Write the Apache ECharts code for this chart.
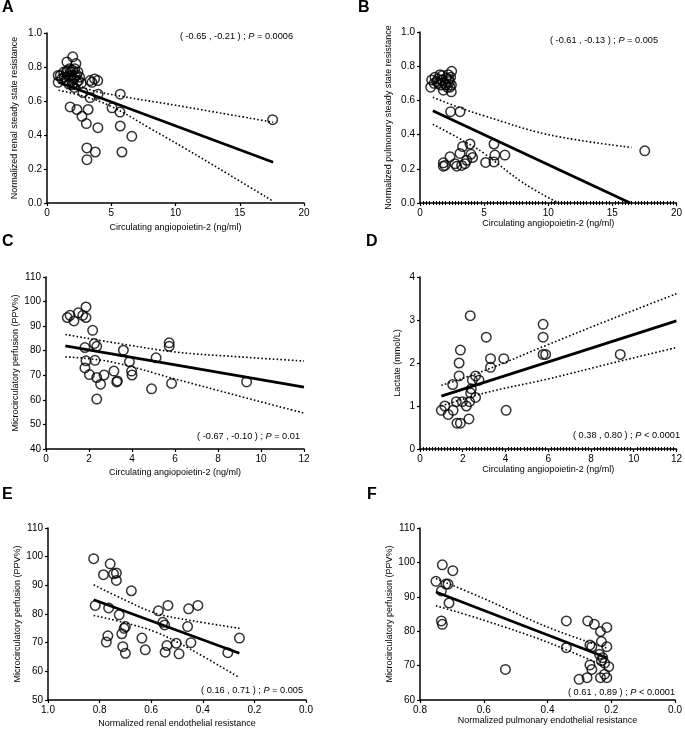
<!DOCTYPE html>
<html>
<head>
<meta charset="utf-8">
<script src="https://cdn.jsdelivr.net/npm/echarts@6/dist/echarts.min.js"></script>
<style>
  html, body { margin: 0; padding: 0; background: #fff; }
  #chart { width: 685px; height: 730px; }
</style>
</head>
<body>
<div id="chart"></div>
<script>
// ---- 数据：点 ----
// A: 肾稳态阻力 vs 血管生成素-2
const aPoints = [
  [0.87, 0.71], [0.87, 0.75], [1.04, 0.75], [1.35, 0.74], [1.50, 0.77], [1.55, 0.83],
  [1.76, 0.79], [1.87, 0.75], [1.94, 0.72], [2.02, 0.78], [2.0, 0.86], [2.20, 0.745],
  [2.25, 0.82], [2.33, 0.71], [2.41, 0.77], [2.54, 0.74], [2.12, 0.68], [2.67, 0.705],
  [1.3, 0.77], [1.45, 0.72], [1.65, 0.745], [1.7, 0.70], [1.85, 0.77], [2.1, 0.73],
  [2.3, 0.755], [1.6, 0.78], [1.95, 0.695], [2.45, 0.72], [1.15, 0.73], [2.15, 0.79],
  [2.8, 0.65], [3.35, 0.72], [3.7, 0.73], [3.95, 0.72], [3.5, 0.71], [3.35, 0.62],
  [3.97, 0.64], [1.8, 0.565], [2.33, 0.55], [3.2, 0.55], [2.72, 0.51], [3.06, 0.467],
  [3.96, 0.443], [5.06, 0.56], [5.7, 0.64], [5.68, 0.535], [5.70, 0.453], [6.60, 0.392],
  [5.83, 0.30], [3.76, 0.30], [3.10, 0.324], [3.11, 0.255], [17.56, 0.49]
];
const aFit = [[0.9, 0.71], [17.6, 0.24]];
const aUpper = [[0.9, 0.76], [3, 0.675], [5.8, 0.628], [10, 0.575], [17.6, 0.475]];
const aLower = [[0.9, 0.663], [3, 0.625], [5, 0.568], [8, 0.44], [12, 0.265], [17.6, 0.01]];

// B: 肺稳态阻力 vs 血管生成素-2
const bPoints = [
  [0.83, 0.677], [0.91, 0.72], [1.17, 0.736], [1.30, 0.71], [1.56, 0.75], [1.69, 0.72],
  [1.82, 0.66], [1.95, 0.70], [2.03, 0.73], [2.13, 0.677], [2.29, 0.71], [2.39, 0.736],
  [2.47, 0.77], [2.44, 0.65], [2.34, 0.677], [1.45, 0.70], [2.2, 0.75], [1.6, 0.69],
  [1.1, 0.70], [1.75, 0.745], [2.0, 0.69], [2.25, 0.725], [1.4, 0.725], [2.45, 0.69],
  [2.39, 0.534], [3.12, 0.534],
  [1.82, 0.235], [1.95, 0.22], [1.82, 0.215], [2.34, 0.27], [2.73, 0.23], [2.86, 0.215],
  [3.12, 0.29], [3.32, 0.33], [3.25, 0.22], [3.51, 0.23], [3.64, 0.25], [3.90, 0.345],
  [3.97, 0.285], [4.10, 0.266], [5.12, 0.237], [5.77, 0.345], [5.84, 0.28], [5.77, 0.24],
  [6.62, 0.28], [17.53, 0.305]
];
const bFit = [[1.0, 0.54], [16.4, 0.0]];
const bUpper = [[1, 0.618], [3, 0.56], [5, 0.51], [10, 0.4], [16.5, 0.325]];
const bLower = [[1, 0.46], [3, 0.38], [5, 0.29], [8, 0.12], [10.8, 0.0]];

// C: 微循环灌注 vs 血管生成素-2
const cPoints = [
  [0.99, 93.5], [1.12, 94.4], [1.30, 92.1], [1.50, 95.4], [1.71, 94.4], [1.86, 93.5],
  [1.86, 97.8], [2.17, 88.3], [1.81, 81.3], [2.25, 82.9], [2.36, 81.8], [1.86, 75.9],
  [2.28, 76.1], [1.81, 73.0], [2.02, 70.3], [2.36, 69.1], [2.70, 70.1], [2.54, 66.4],
  [2.36, 60.3], [3.16, 71.7], [3.29, 67.3], [3.32, 67.7], [3.60, 80.2], [3.88, 75.5],
  [3.98, 71.7], [4.00, 70.1], [4.91, 64.5], [5.12, 77.1], [5.73, 83.2], [5.73, 81.8],
  [5.84, 66.7], [9.33, 67.3]
];
const cFit = [[0.9, 82], [12, 65.2]];
const cUpper = [[0.9, 86.6], [3, 83.5], [6, 79.5], [9, 77.5], [12, 75.8]];
const cLower = [[0.9, 77.5], [3, 75.5], [6, 68.5], [9, 61.5], [12, 54.6]];

// D: 乳酸 vs 血管生成素-2
const dPoints = [
  [1.0, 0.9], [1.16, 1.0], [1.32, 0.8], [1.55, 0.9], [1.53, 1.5], [1.7, 1.1],
  [1.73, 0.6], [1.89, 0.6], [1.83, 1.7], [1.83, 2.0], [1.89, 2.3], [1.98, 1.1],
  [2.17, 1.0], [2.29, 0.7], [2.35, 3.1], [2.32, 1.1], [2.37, 1.3], [2.4, 1.4],
  [2.45, 1.6], [2.6, 1.7], [2.6, 1.2], [2.76, 1.6], [3.1, 2.6], [3.3, 2.1],
  [3.3, 1.9], [3.92, 2.1], [4.03, 0.9], [5.76, 2.9], [5.76, 2.6], [5.76, 2.2],
  [5.88, 2.2], [9.37, 2.2]
];
const dFit = [[1, 1.23], [12, 2.98]];
const dUpper = [[1, 1.48], [3, 1.82], [6, 2.43], [9, 3.03], [12, 3.61]];
const dLower = [[1, 1.0], [3, 1.3], [6, 1.63], [9, 2.0], [12, 2.36]];

// E: 微循环灌注 vs 肾内皮阻力
const ePoints = [
  [0.823, 99.3], [0.759, 97.5], [0.785, 93.7], [0.746, 94.0], [0.735, 94.3], [0.735, 91.7],
  [0.677, 88.1], [0.817, 83.0], [0.765, 82.1], [0.724, 79.7], [0.768, 72.4], [0.774, 70.2],
  [0.70, 75.6], [0.705, 75.0], [0.714, 73.1], [0.71, 68.6], [0.70, 66.3], [0.636, 71.6],
  [0.623, 67.5], [0.572, 81.1], [0.555, 77.1], [0.548, 76.2], [0.535, 83.0], [0.539, 69.0],
  [0.546, 66.7], [0.503, 69.8], [0.492, 66.1], [0.455, 81.8], [0.419, 83.0], [0.459, 75.6],
  [0.446, 70.0], [0.303, 66.5], [0.258, 71.6]
];
const eFit = [[0.823, 84.95], [0.258, 66.3]];
const eUpper = [[0.823, 90.2], [0.7, 84.8], [0.58, 80.2], [0.45, 77.8], [0.258, 75.0]];
const eLower = [[0.823, 79.5], [0.7, 76.9], [0.58, 73.6], [0.45, 67.8], [0.258, 57.8]];

// F: 微循环灌注 vs 肺内皮阻力
const fPoints = [
  [0.750, 94.5], [0.730, 99.3], [0.697, 97.6], [0.733, 91.7], [0.719, 93.7], [0.712, 93.7],
  [0.709, 88.2], [0.733, 83.0], [0.730, 82.0], [0.532, 68.9], [0.341, 83.0], [0.341, 75.2],
  [0.274, 83.0], [0.253, 82.0], [0.214, 81.1], [0.234, 79.9], [0.231, 77.0], [0.267, 76.0],
  [0.261, 75.5], [0.214, 75.5], [0.237, 73.3], [0.227, 72.3], [0.231, 71.4], [0.221, 70.7],
  [0.208, 69.7], [0.267, 70.2], [0.261, 68.9], [0.276, 66.5], [0.301, 66.0], [0.234, 66.5],
  [0.221, 67.5], [0.214, 66.5]
];
const fFit = [[0.75, 91.4], [0.214, 72.3]];
const fUpper = [[0.75, 95.3], [0.6, 89.5], [0.4, 81.2], [0.214, 75.1]];
const fLower = [[0.75, 87.4], [0.6, 83.2], [0.4, 76.8], [0.214, 69.5]];

// 面板标签与注释文字
const panelLetters = ['A', 'B', 'C', 'D', 'E', 'F'];
const ciTexts = [
  ['( -0.65 , -0.21 ) ; ', ' = 0.0006'],
  ['( -0.61 , -0.13 ) ; ', ' = 0.005'],
  ['( -0.67 , -0.10 ) ; ', ' = 0.01'],
  ['( 0.38 , 0.80 ) ; ', ' < 0.0001'],
  ['( 0.16 , 0.71 ) ; ', ' = 0.005'],
  ['( 0.61 , 0.89 ) ; ', ' < 0.0001']
];
const xNames = [
  'Circulating angiopoietin-2 (ng/ml)', 'Circulating angiopoietin-2 (ng/ml)',
  'Circulating angiopoietin-2 (ng/ml)', 'Circulating angiopoietin-2 (ng/ml)',
  'Normalized renal endothelial resistance', 'Normalized pulmonary endothelial resistance'
];
const yNames = [
  'Normalized renal steady state resistance', 'Normalized pulmonary steady state resistance',
  'Microcirculatory perfusion (PPV%)', 'Lactate (mmol/L)',
  'Microcirculatory perfusion (PPV%)', 'Microcirculatory perfusion (PPV%)'
];

const FONT = '"Liberation Sans", Arial, Helvetica, sans-serif';

// 布局（像素）
const grids = [
  { left: 47, top: 33, width: 257, height: 170 },
  { left: 420, top: 32, width: 257, height: 171 },
  { left: 46, top: 277, width: 258, height: 172 },
  { left: 420, top: 277, width: 258, height: 172 },
  { left: 48, top: 528, width: 258, height: 172 },
  { left: 420, top: 528, width: 258, height: 172 }
];
const xRanges = [
  { min: 0, max: 20, interval: 5 }, { min: 0, max: 20, interval: 5 },
  { min: 0, max: 12, interval: 2 }, { min: 0, max: 12, interval: 2 },
  { min: 0, max: 1, interval: 0.2, inverse: true, dec: 1 },
  { min: 0, max: 0.8, interval: 0.2, inverse: true, dec: 1 }
];
const yRanges = [
  { min: 0, max: 1, interval: 0.2, dec: 1 }, { min: 0, max: 1, interval: 0.2, dec: 1 },
  { min: 40, max: 110, interval: 10 }, { min: 0, max: 4, interval: 1 },
  { min: 50, max: 110, interval: 10 }, { min: 60, max: 110, interval: 10 }
];
const xNameGaps = [20, 10, 19.5, 9.5, 19.5, 10.5];
const yNameGaps = [28, 27, 24, 18, 26, 25];
const xMinor = [0, 20, 0, 14, 0, 0];
const letterPos = [[2, 0], [358, 0], [2, 234], [366, 234], [2, 487], [367, 487]];
const ciPos = [[392, 32], [27, 36], [385, 432], [5, 431], [382, 686], [10, 688]];

const axisLineStyle = { color: '#000', width: 1.5 };

function makeXAxis(i) {
  const r = xRanges[i];
  return {
    type: 'value', gridIndex: i, min: r.min, max: r.max, interval: r.interval,
    inverse: !!r.inverse,
    name: xNames[i], nameLocation: 'middle', nameGap: xNameGaps[i],
    nameTextStyle: { fontFamily: FONT, fontSize: 9, color: '#000' },
    axisLine: { show: true, onZero: false, lineStyle: axisLineStyle },
    axisTick: { show: true, length: 3, lineStyle: { color: '#000', width: 1.2 } },
    minorTick: { show: xMinor[i] > 0, splitNumber: xMinor[i] || 5, length: 2, lineStyle: { color: '#000', width: 1 } },
    axisLabel: {
      fontFamily: FONT, fontSize: 10, color: '#000', margin: 5,
      formatter: v => (r.dec ? v.toFixed(r.dec) : String(v))
    },
    splitLine: { show: false }
  };
}

// 小刻度在轴线内侧的另一半（B、D 的横轴）
function makeInnerMinorAxis(i) {
  const r = xRanges[i];
  return {
    type: 'value', gridIndex: i, min: r.min, max: r.max, interval: r.interval,
    position: 'bottom',
    axisLine: { show: false, onZero: false },
    axisTick: { show: false, inside: true },
    minorTick: { show: true, splitNumber: xMinor[i], length: 2, lineStyle: { color: '#000', width: 1 } },
    axisLabel: { show: false },
    splitLine: { show: false }
  };
}

function makeYAxis(i) {
  const r = yRanges[i];
  return {
    type: 'value', gridIndex: i, min: r.min, max: r.max, interval: r.interval,
    name: yNames[i], nameLocation: 'middle', nameGap: yNameGaps[i],
    nameTextStyle: { fontFamily: FONT, fontSize: 9, color: '#000' },
    axisLine: { show: true, onZero: false, lineStyle: axisLineStyle },
    axisTick: { show: true, length: 3, lineStyle: { color: '#000', width: 1.2 } },
    axisLabel: {
      fontFamily: FONT, fontSize: 10, color: '#000', margin: 5,
      formatter: v => (r.dec ? v.toFixed(r.dec) : String(v))
    },
    splitLine: { show: false }
  };
}

const allPoints = [aPoints, bPoints, cPoints, dPoints, ePoints, fPoints];
const allFits = [aFit, bFit, cFit, dFit, eFit, fFit];
const allUpper = [aUpper, bUpper, cUpper, dUpper, eUpper, fUpper];
const allLower = [aLower, bLower, cLower, dLower, eLower, fLower];

const series = [];
for (let i = 0; i < 6; i++) {
  [allUpper[i], allLower[i]].forEach(band => {
    series.push({
      type: 'line', xAxisIndex: i, yAxisIndex: i, data: band, smooth: 0.4,
      showSymbol: false, silent: true, z: 2,
      lineStyle: { color: '#000', width: 1.6, type: [1.6, 2.2] }
    });
  });
  series.push({
    type: 'line', xAxisIndex: i, yAxisIndex: i, data: allFits[i],
    showSymbol: false, silent: true, z: 3,
    lineStyle: { color: '#000', width: 2.8 }
  });
  series.push({
    type: 'scatter', xAxisIndex: i, yAxisIndex: i, data: allPoints[i],
    symbol: 'circle', symbolSize: 9.5, silent: true, z: 4,
    itemStyle: { color: 'rgba(0,0,0,0)', borderColor: '#000', borderWidth: 1.5 }
  });
}

const titles = [];
for (let i = 0; i < 6; i++) {
  titles.push({
    text: panelLetters[i], left: letterPos[i][0], top: letterPos[i][1], padding: 0,
    textStyle: { fontFamily: FONT, fontSize: 16, fontWeight: 'bold', color: '#000' }
  });
  titles.push({
    text: ciTexts[i][0] + '{i|P}' + ciTexts[i][1],
    right: ciPos[i][0], top: ciPos[i][1], padding: 0,
    textStyle: {
      fontFamily: FONT, fontSize: 9.2, fontWeight: 'normal', color: '#000',
      rich: { i: { fontFamily: FONT, fontSize: 9.2, fontStyle: 'italic', color: '#000' } }
    }
  });
}

const xAxes = grids.map((g, i) => makeXAxis(i));
xAxes.push(makeInnerMinorAxis(1), makeInnerMinorAxis(3));

const chart = echarts.init(document.getElementById('chart'), null, { renderer: 'canvas' });
chart.setOption({
  animation: false,
  backgroundColor: '#fff',
  title: titles,
  grid: grids.map(g => Object.assign({ containLabel: false }, g)),
  xAxis: xAxes,
  yAxis: grids.map((g, i) => makeYAxis(i)),
  series: series
});
</script>
</body>
</html>
